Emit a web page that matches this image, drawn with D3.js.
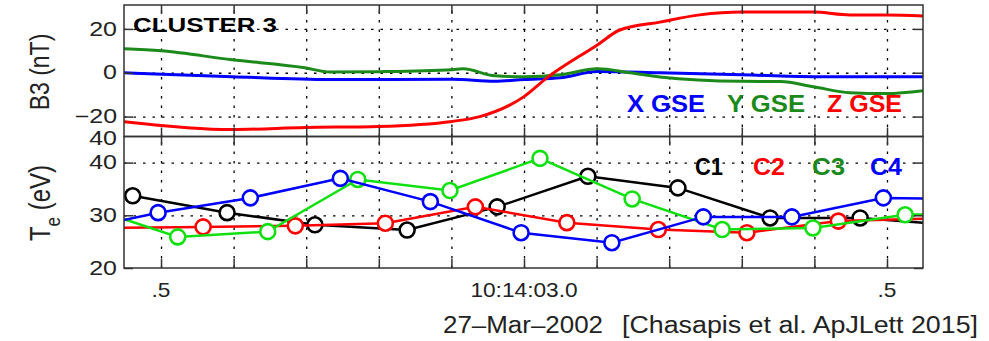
<!DOCTYPE html>
<html>
<head>
<meta charset="utf-8">
<script src="https://cdn.jsdelivr.net/npm/d3@7"></script>
<style>
  body { margin: 0; background: #fff; }
  svg { display: block; font-family: "Liberation Sans", Arial, sans-serif; }
</style>
</head>
<body>
<svg id="chart" width="989" height="341"></svg>
<script>
// time axis: seconds after 10:14:00 on 27-Mar-2002
const xTicks = [2.5, 2.6, 2.7, 2.8, 2.9, 3.0, 3.1, 3.2, 3.3, 3.4, 3.5];
const xTickLabels = {2.5: ".5", 3.0: "10:14:03.0", 3.5: ".5"};

// top panel: B field GSE components (nT)
const bxT = [2.449, 2.598, 2.733, 2.901, 2.960, 3.000, 3.050, 3.101, 3.187, 3.300, 3.399, 3.550];
const bxV = [0, -1.8, -3.1, -3.0, -3.9, -3.1, -2.3, 0.6, 0, -0.9, -1.8, -1.8];
const byT = [2.449, 2.5, 2.598, 2.698, 2.733, 2.799, 2.901, 2.916, 2.960, 3.000, 3.050, 3.101, 3.146, 3.187, 3.300, 3.353, 3.399, 3.449, 3.5, 3.550];
const byV = [10.9, 10, 5.9, 2.3, 0.3, 0.5, 1.4, 1.8, -1.4, -1.8, -0.9, 1.8, 0, -1.9, -3.9, -4.0, -6.4, -9.1, -9.5, -8.2];
const bzT = [2.449, 2.598, 2.698, 2.799, 2.901, 2.939, 3.000, 3.032, 3.101, 3.132, 3.187, 3.242, 3.300, 3.399, 3.449, 3.5, 3.550];
const bzV = [-22.3, -25.9, -25.0, -24.5, -22.2, -20.0, -10.9, -2.2, 12.7, 19.5, 23.1, 26.4, 27.7, 27.7, 26.4, 26.4, 25.9];
const bTicks = [-20, 0, 20];

// bottom panel: electron temperature per spacecraft (eV)
const c1T = [2.461, 2.591, 2.712, 2.839, 2.963, 3.088, 3.212, 3.339, 3.463, 3.588];
const c1V = [33.7, 30.5, 28.2, 27.2, 31.6, 37.4, 35.2, 29.5, 29.5, 28.2];
const c2T = [2.433, 2.558, 2.685, 2.809, 2.933, 3.059, 3.185, 3.307, 3.433, 3.562];
const c2V = [27.6, 27.8, 28.0, 28.5, 31.6, 28.6, 27.3, 26.7, 28.9, 29.4];
const c3T = [2.398, 2.523, 2.647, 2.771, 2.898, 3.022, 3.149, 3.273, 3.398, 3.525, 3.650];
const c3V = [31.6, 25.9, 26.9, 36.8, 34.7, 40.8, 33.1, 27.3, 27.6, 30.1, 30.7];
const c4T = [2.371, 2.496, 2.623, 2.747, 2.871, 2.996, 3.121, 3.247, 3.369, 3.495, 3.620];
const c4V = [26.8, 30.5, 33.3, 37.0, 32.6, 26.7, 24.8, 29.7, 29.7, 33.3, 33.0];
const teTicks = [20, 30, 40];

const svg = d3.select("#chart");
const L = 124, R = 923, T1 = 5, B1 = 136.5, B2 = 268;

const x = d3.scaleLinear().domain([2.449, 3.5496]).range([L, R]);
const y1 = d3.scaleLinear().domain([-29.09, 30.91]).range([B1, T1]);
const y2 = d3.scaleLinear().domain([20, 44.95]).range([B2, B1]);

function stretch(sel, k) {
  sel.each(function() {
    const w = this.getComputedTextLength();
    if (w > 0) d3.select(this).attr("textLength", w * k).attr("lengthAdjust", "spacingAndGlyphs");
  });
}

const defs = svg.append("defs");
defs.append("clipPath").attr("id", "clipTop").append("rect")
  .attr("x", L).attr("y", T1).attr("width", R - L).attr("height", B1 - T1);
defs.append("clipPath").attr("id", "clipBot").append("rect")
  .attr("x", L).attr("y", B1).attr("width", R - L).attr("height", B2 - B1);
defs.append("clipPath").attr("id", "clipLab").append("rect")
  .attr("x", 60).attr("y", 131).attr("width", 64).attr("height", 20);

function grid(y0, yEnd, yScale, yTicks) {
  const g = svg.append("g").attr("class", "grid");
  g.append("g").attr("transform", `translate(0,${yEnd})`)
    .call(d3.axisBottom(x).tickValues(xTicks).tickSize(-(yEnd - y0)).tickFormat(""));
  g.append("g").attr("transform", `translate(${L},0)`)
    .call(d3.axisLeft(yScale).tickValues(yTicks).tickSize(-(R - L)).tickFormat(""));
  g.selectAll(".domain").remove();
  g.selectAll(".tick line").attr("stroke", "#000").attr("stroke-width", 1.3).attr("stroke-dasharray", "2.5,7");
}

function frame(y0, yEnd, yScale, yTicks) {
  const g = svg.append("g");
  g.append("g").attr("transform", `translate(0,${y0})`)
    .call(d3.axisTop(x).tickValues(xTicks).tickSize(-9).tickFormat(""));
  g.append("g").attr("transform", `translate(0,${yEnd})`)
    .call(d3.axisBottom(x).tickValues(xTicks).tickSize(-9).tickFormat(""));
  g.append("g").attr("transform", `translate(${R},0)`)
    .call(d3.axisRight(yScale).tickValues(yTicks).tickSize(-9).tickFormat(""));
  const left = g.append("g").attr("transform", `translate(${L},0)`)
    .call(d3.axisLeft(yScale).tickValues(yTicks).tickSize(-9).tickPadding(7));
  left.selectAll("text").attr("font-size", 19.5).attr("fill", "#222")
    .attr("font-family", "Liberation Sans, Arial, sans-serif");
  stretch(left.selectAll("text"), 1.28);
  g.selectAll(".domain").remove();
  g.selectAll(".tick line").attr("stroke", "#333").attr("stroke-width", 1.5);
  g.append("rect").attr("x", L).attr("y", y0).attr("width", R - L).attr("height", yEnd - y0)
    .attr("fill", "none").attr("stroke", "#333").attr("stroke-width", 1.5);
  return g;
}

// ---- top panel
grid(T1, B1, y1, bTicks);
const line1 = d3.line().x(d => x(d[0])).y(d => y1(d[1])).curve(d3.curveMonotoneX);
const topPanel = svg.append("g").attr("clip-path", "url(#clipTop)");
[[bxT, bxV, "#0000ff"], [byT, byV, "#1b8a1b"], [bzT, bzV, "#ff0000"]].forEach(([t, v, c]) => {
  topPanel.append("path").datum(d3.zip(t, v)).attr("d", line1)
    .attr("fill", "none").attr("stroke", c).attr("stroke-width", 3);
});
frame(T1, B1, y1, bTicks);

// ---- bottom panel
grid(B1, B2, y2, teTicks.filter(d => d > 20));
const line2 = d3.line().x(d => x(d[0])).y(d => y2(d[1]));
const botPanel = svg.append("g").attr("clip-path", "url(#clipBot)");
[[c1T, c1V, "#000000"], [c2T, c2V, "#ff0000"], [c3T, c3V, "#10e010"], [c4T, c4V, "#0000ff"]].forEach(([t, v, c]) => {
  const pts = d3.zip(t, v);
  botPanel.append("path").datum(pts).attr("d", line2)
    .attr("fill", "none").attr("stroke", c).attr("stroke-width", 2.5);
  botPanel.selectAll(null).data(pts).enter().append("circle")
    .attr("cx", d => x(d[0])).attr("cy", d => y2(d[1])).attr("r", 7.5)
    .attr("fill", "#fff").attr("stroke", c).attr("stroke-width", 2.6);
});
frame(B1, B2, y2, teTicks);

// partly hidden label between the panels
const lab40 = svg.append("text").attr("clip-path", "url(#clipLab)")
  .attr("x", 117).attr("y", 145).attr("text-anchor", "end")
  .attr("font-size", 19.5).attr("fill", "#222").text("40");
stretch(lab40, 1.28);

// x tick labels
xTicks.filter(d => xTickLabels[d]).forEach(d => {
  const t = svg.append("text").attr("x", x(d)).attr("y", 297).attr("text-anchor", "middle")
    .attr("font-size", 21).attr("fill", "#222").text(xTickLabels[d]);
  stretch(t, 1.08);
});

// axis titles
svg.append("text")
  .attr("transform", "translate(49,72) rotate(-90) scale(1,1.22)")
  .attr("text-anchor", "middle").attr("font-size", 23).attr("fill", "#222")
  .text("B3 (nT)");
const te = svg.append("text")
  .attr("transform", "translate(50,203) rotate(-90) scale(1,1.22)")
  .attr("text-anchor", "middle").attr("font-size", 24).attr("fill", "#222");
te.append("tspan").text("T");
te.append("tspan").attr("font-size", 17).attr("dy", 8).text("e");
te.append("tspan").attr("dy", -8).text("\u00a0(eV)");

// panel annotations
svg.append("text").attr("x", 133).attr("y", 32).attr("font-size", 21).attr("font-weight", "bold")
  .attr("textLength", 144).attr("lengthAdjust", "spacingAndGlyphs").text("CLUSTER 3");

const topLegend = [["X GSE", "#0000ff", 627, 78], ["Y GSE", "#1b8a1b", 727, 78], ["Z GSE", "#ff0000", 827, 75]];
topLegend.forEach(([s, c, px, w]) => {
  svg.append("text").attr("x", px).attr("y", 112).attr("font-size", 23).attr("font-weight", "bold")
    .attr("fill", c).attr("textLength", w).attr("lengthAdjust", "spacingAndGlyphs").text(s);
});
const botLegend = [["C1", "#000000", 695, 28], ["C2", "#ff0000", 753, 32], ["C3", "#1b8a1b", 812, 33], ["C4", "#0000ff", 870, 32]];
botLegend.forEach(([s, c, px, w]) => {
  svg.append("text").attr("x", px).attr("y", 175).attr("font-size", 23).attr("font-weight", "bold")
    .attr("fill", c).attr("textLength", w).attr("lengthAdjust", "spacingAndGlyphs").text(s);
});

// footer
svg.append("text").attr("x", 443).attr("y", 333).attr("font-size", 23).attr("fill", "#222")
  .attr("textLength", 160).attr("lengthAdjust", "spacingAndGlyphs").text("27\u2013Mar\u20132002");
svg.append("text").attr("x", 622).attr("y", 333).attr("font-size", 23).attr("fill", "#222")
  .attr("textLength", 356).attr("lengthAdjust", "spacingAndGlyphs").text("[Chasapis et al. ApJLett 2015]");
</script>
</body>
</html>
